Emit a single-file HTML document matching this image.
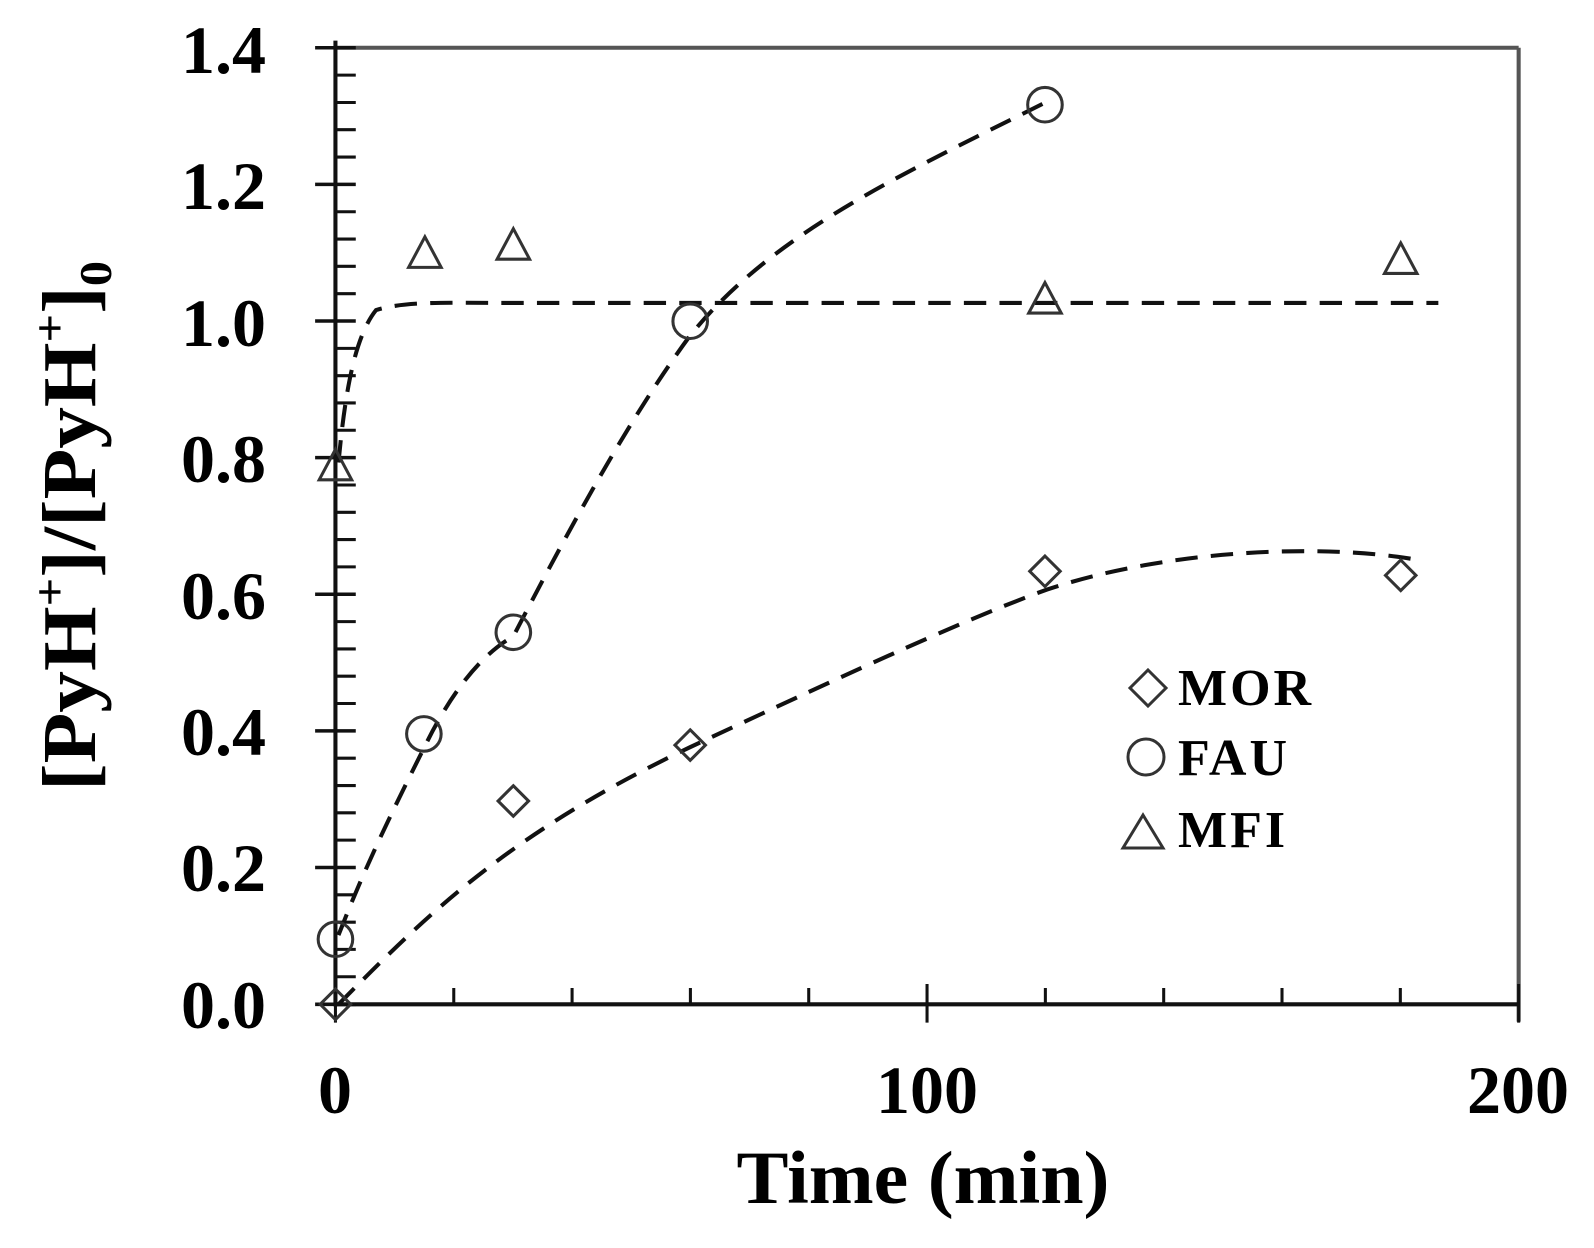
<!DOCTYPE html>
<html><head><meta charset="utf-8"><style>
html,body{margin:0;padding:0;background:#fff;}
svg{display:block;}
text{font-family:"Liberation Serif",serif;font-weight:bold;fill:#000;}
</style></head><body>
<svg width="1594" height="1248" viewBox="0 0 1594 1248" xmlns="http://www.w3.org/2000/svg">
<g transform="scale(1.0165)">
<g stroke="#111" stroke-width="4" fill="none">
<line x1="330" y1="47" x2="1494" y2="47" stroke="#555"/>
<line x1="1494" y1="47" x2="1494" y2="1005" stroke="#555"/>
<line x1="330" y1="40" x2="330" y2="990"/>
<line x1="330" y1="988" x2="1494" y2="988"/>
</g>
<g stroke="#111" stroke-width="3.5">
<line x1="310" y1="47" x2="350" y2="47"/>
<line x1="310" y1="181.4" x2="350" y2="181.4"/>
<line x1="310" y1="315.8" x2="350" y2="315.8"/>
<line x1="310" y1="450.2" x2="350" y2="450.2"/>
<line x1="310" y1="584.6" x2="350" y2="584.6"/>
<line x1="310" y1="719" x2="350" y2="719"/>
<line x1="310" y1="853.4" x2="350" y2="853.4"/>
<line x1="310" y1="988" x2="350" y2="988"/>
</g>
<g stroke="#111" stroke-width="3">
<path d="M330 73.9h20M330 100.8h20M330 127.6h20M330 154.5h20M330 208.3h20M330 235.2h20M330 262h20M330 288.9h20M330 342.7h20M330 369.6h20M330 396.4h20M330 423.3h20M330 477.1h20M330 504h20M330 530.8h20M330 557.7h20M330 611.5h20M330 638.4h20M330 665.2h20M330 692.1h20M330 745.9h20M330 772.8h20M330 799.6h20M330 826.5h20M330 880.3h20M330 907.2h20M330 934h20M330 960.9h20"/>
<path d="M446.4 988v-16M562.8 988v-16M679.2 988v-16M795.6 988v-16M1028.4 988v-16M1144.8 988v-16M1261.2 988v-16M1377.6 988v-16"/>
<path d="M912 968v38M1494 968v38M330 968v38"/>
</g>
<g fill="none" stroke="#111" stroke-width="4" stroke-dasharray="22,13">
<path d="M333 920 C360 850,390 790,420 730 S480 640,505 626 C560 520,620 410,679 330 C760 230,880 175,1030 100"/>
<path d="M333 988 C420 900,500 820,679 735 C850 655,960 605,1030 580 C1150 540,1300 535,1390 550"/>
<path d="M333 455 C340 380,350 330,370 305 C400 296,440 298,500 298 L1415 298"/>
</g>
<g fill="none" stroke="#333" stroke-width="3">
<circle cx="330" cy="924" r="17"/>
<circle cx="417" cy="722" r="17"/>
<circle cx="505" cy="622" r="17"/>
<circle cx="679" cy="316" r="17"/>
<circle cx="1028" cy="103" r="17"/>
<path d="M330 973l15 15l-15 15l-15-15z"/>
<path d="M505 773l15 15l-15 15l-15-15z"/>
<path d="M679 718l15 15l-15 15l-15-15z"/>
<path d="M1028 547l15 15l-15 15l-15-15z"/>
<path d="M1378 551l15 15l-15 15l-15-15z"/>
<path d="M330 442l-16 30h32z"/>
<path d="M418 233l-16 30h32z"/>
<path d="M505 225l-16 30h32z"/>
<path d="M1028 278l-16 30h32z"/>
<path d="M1378 239l-16 30h32z"/>
</g>
</g>
<g fill="none" stroke="#333" stroke-width="3">
<path d="M1148 670l18 18l-18 18l-18-18z"/>
<circle cx="1146" cy="757" r="18"/>
<path d="M1143 815l-20 33h40z"/>
</g>
<g font-size="52" letter-spacing="3">
<text x="1178" y="705">MOR</text>
<text x="1178" y="775">FAU</text>
<text x="1178" y="847">MFI</text>
</g>
<g font-size="68" text-anchor="end">
<text x="266" y="73">1.4</text>
<text x="266" y="209">1.2</text>
<text x="266" y="346">1.0</text>
<text x="266" y="482">0.8</text>
<text x="266" y="619">0.6</text>
<text x="266" y="755">0.4</text>
<text x="266" y="891">0.2</text>
<text x="266" y="1028">0.0</text>
</g>
<g font-size="68" text-anchor="middle">
<text x="335" y="1113">0</text>
<text x="927" y="1113">100</text>
<text x="1518" y="1113">200</text>
</g>
<text x="923" y="1203" font-size="75" text-anchor="middle" textLength="373" lengthAdjust="spacingAndGlyphs">Time (min)</text>
<text transform="translate(95,526) rotate(-90)" font-size="76" text-anchor="middle" textLength="530" lengthAdjust="spacingAndGlyphs">[PyH<tspan font-size="46" dy="-30">+</tspan><tspan dy="30">]/[PyH</tspan><tspan font-size="46" dy="-30">+</tspan><tspan dy="30">]</tspan><tspan font-size="46" dy="16">0</tspan></text>
</svg>
</body></html>
